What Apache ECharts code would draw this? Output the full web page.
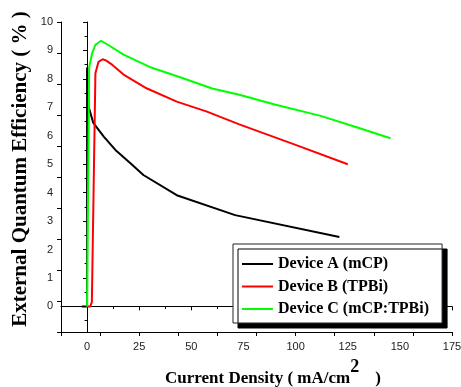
<!DOCTYPE html>
<html>
<head>
<meta charset="utf-8">
<script src="https://cdn.jsdelivr.net/npm/echarts@6/dist/echarts.min.js"></script>
<style>
  html, body { margin: 0; padding: 0; background: #fff; }
  #chart { width: 461px; height: 387px; }
</style>
</head>
<body>
<div id="chart"></div>
<script>
// values (current density in mA/cm2, EQE in %)
const aCurrent = [-2.5, 0, 0, 0.8, 3, 8, 14, 20.8, 27, 43, 71, 121];
const aEqe = [0, 0, 8.4, 7.0, 6.45, 5.97, 5.47, 5.03, 4.62, 3.91, 3.21, 2.44];

const bCurrent = [0, 1.5, 2.3, 4, 5.5, 7.5, 9, 12, 17.5, 28.5, 43, 57.5, 73, 100, 125];
const bEqe = [0, 0, 0.15, 8.2, 8.6, 8.69, 8.65, 8.5, 8.15, 7.67, 7.2, 6.85, 6.4, 5.68, 5.0];

const cCurrent = [0, 1, 2.4, 4, 6.7, 10, 17.5, 30, 45, 60, 73, 90, 112, 130, 145.5];
const cEqe = [0, 8.4, 8.9, 9.2, 9.34, 9.2, 8.85, 8.42, 8.05, 7.66, 7.44, 7.1, 6.7, 6.28, 5.91];

const deviceNames = ['Device A (mCP)', 'Device B (TPBi)', 'Device C (mCP:TPBi)'];
const deviceColors = ['#000000', '#ff0000', '#00ff00'];

const xTicks = [0, 25, 50, 75, 100, 125, 150, 175];
const xMinorTicks = [-12.5, 12.5, 37.5, 62.5, 87.5, 112.5, 137.5, 162.5];
const yTicks = [0, 1, 2, 3, 4, 5, 6, 7, 8, 9, 10];
const yMinorTicks = [-0.5, 0.5, 1.5, 2.5, 3.5, 4.5, 5.5, 6.5, 7.5, 8.5, 9.5];

const zip = (xs, ys) => xs.map((x, i) => [x, ys[i]]);
const curves = [zip(aCurrent, aEqe), zip(bCurrent, bEqe), zip(cCurrent, cEqe)];

const chart = echarts.init(document.getElementById('chart'), null, { renderer: 'canvas' });

const labelFont = { fontFamily: 'Liberation Sans', fontSize: 11, color: '#222' };
const frameLine = { show: true, lineStyle: { color: '#000', width: 1 } };

const option = {
  animation: false,
  backgroundColor: '#fff',
  grid: { left: 61, top: 22, right: 9, bottom: 55, containLabel: false, outerBoundsMode: 'none' },
  xAxis: [
    {
      type: 'value', position: 'bottom', min: -12.5, max: 175,
      axisLine: frameLine,
      axisTick: { show: true, inside: false, length: 4, customValues: xTicks, lineStyle: { color: '#000' } },
      axisLabel: { show: true, customValues: xTicks, margin: 9, ...labelFont },
      splitLine: { show: false }
    },
    {
      type: 'value', position: 'bottom', min: -12.5, max: 175,
      axisLine: { show: false },
      axisTick: { show: true, inside: false, length: 2.5, customValues: xMinorTicks, lineStyle: { color: '#000' } },
      axisLabel: { show: false },
      splitLine: { show: false }
    },
    {
      // top frame, Origin style ticks
      type: 'value', position: 'top', min: 0, max: 10, interval: 1,
      axisLine: frameLine,
      axisTick: { show: true, inside: true, length: 4, lineStyle: { color: '#000' } },
      axisLabel: { show: false },
      splitLine: { show: false }
    }
  ],
  yAxis: [
    {
      type: 'value', position: 'left', min: -0.9, max: 10,
      axisLine: frameLine,
      axisTick: { show: true, inside: false, length: 4, customValues: yTicks, lineStyle: { color: '#000' } },
      axisLabel: { show: true, customValues: yTicks, margin: 8, ...labelFont },
      splitLine: { show: false }
    },
    {
      type: 'value', position: 'left', min: -0.9, max: 10,
      axisLine: { show: false },
      axisTick: { show: true, inside: false, length: 2.5, customValues: yMinorTicks, lineStyle: { color: '#000' } },
      axisLabel: { show: false },
      splitLine: { show: false }
    },
    {
      type: 'value', position: 'right', min: 0, max: 10, interval: 1,
      axisLine: frameLine,
      axisTick: { show: true, inside: true, length: 4, lineStyle: { color: '#000' } },
      axisLabel: { show: false },
      splitLine: { show: false }
    }
  ],
  legend: {
    orient: 'vertical',
    left: 233,
    top: 244,
    padding: [12, 13, 6, 9],
    icon: 'rect',
    itemWidth: 31,
    itemHeight: 2,
    itemGap: 6.5,
    backgroundColor: '#fff',
    borderColor: '#222',
    borderWidth: 1,
    shadowColor: '#000',
    shadowBlur: 0,
    shadowOffsetX: 5,
    shadowOffsetY: 5,
    textStyle: { fontFamily: 'Liberation Serif', fontWeight: 'bold', fontSize: 16, color: '#000', lineHeight: 16 },
    data: deviceNames
  },
  graphic: [
    {
      type: 'text', x: 21, y: 169, rotation: Math.PI / 2,
      style: {
        text: 'External Quantum Efficiency ( % )',
        fontFamily: 'Liberation Serif', fontWeight: 'bold', fontSize: 21,
        fill: '#000', align: 'center', verticalAlign: 'middle'
      }
    },
    {
      type: 'text', x: 165, y: 387,
      style: {
        text: '{a|Current Density ( mA/cm}{s|2}{p|)}',
        align: 'left', verticalAlign: 'bottom', fill: '#000',
        rich: {
          a: { fontFamily: 'Liberation Serif', fontWeight: 'bold', fontSize: 17, fill: '#000', verticalAlign: 'bottom' },
          s: { fontFamily: 'Liberation Serif', fontWeight: 'bold', fontSize: 18, fill: '#000', verticalAlign: 'bottom', padding: [0, 0, 11, 0] },
          p: { fontFamily: 'Liberation Serif', fontWeight: 'bold', fontSize: 17, fill: '#000', verticalAlign: 'bottom', padding: [0, 0, 0, 16] }
        }
      }
    }
  ],
  series: curves.map((d, i) => ({
    name: deviceNames[i],
    type: 'line',
    xAxisIndex: 0,
    yAxisIndex: 0,
    data: d,
    symbol: 'none',
    smooth: false,
    lineStyle: { color: deviceColors[i], width: 2 },
    itemStyle: { color: deviceColors[i] },
    z: 3 + i
  }))
};

chart.setOption(option);
</script>
</body>
</html>
